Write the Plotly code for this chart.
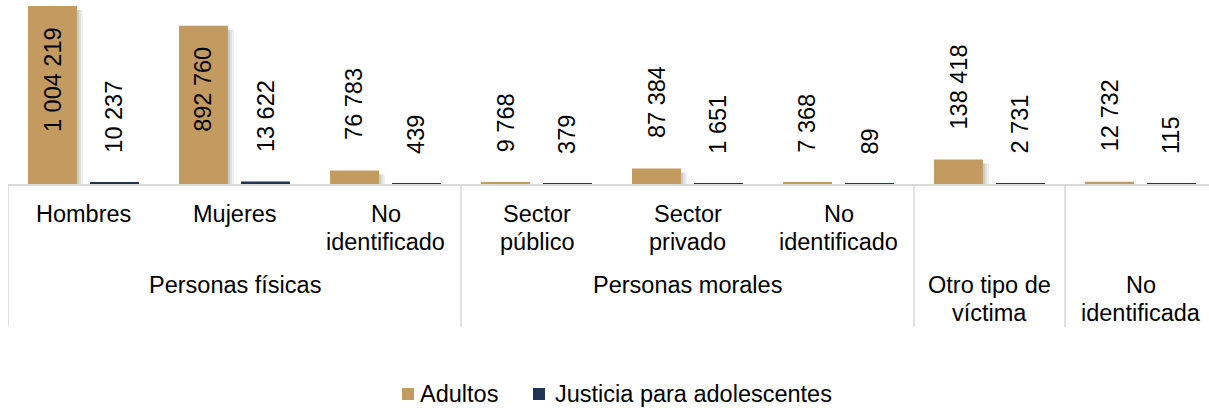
import plotly.graph_objects as go

# ---- data ----
subcats = ["Hombres", "Mujeres", "No\nidentificado", "Sector\npúblico",
           "Sector\nprivado", "No\nidentificado", "", ""]
groups = ["Personas físicas", "Personas morales", "Otro tipo de\nvíctima", "No\nidentificada"]
group_sizes = [3, 3, 1, 1]
adultos = [1004219, 892760, 76783, 9768, 87384, 7368, 138418, 12732]
adolescentes = [10237, 13622, 439, 379, 1651, 89, 2731, 115]
series_names = ["Adultos", "Justicia para adolescentes"]
colors = ["#C39B60", "#1F3556"]

# ---- layout geometry (pixels) ----
W, H = 1209, 408
L, T = 8, 0
PW = W - L
PH = 184
CW = 151.0                      # pixel width of one category
XMAX = -0.5 + PW / CW
YMAX = 1004219 * PH / 178.0
BARGAP, BARGROUPGAP = 0.179, 0.21
OFF = (1 - BARGAP) / 4          # centre offset of each bar within a group
FS = 23.5
FONT = "Arial, Liberation Sans, sans-serif"
GRID = "#D9D9D9"

def xp(px):
    return (px - L) / PW

def yp(py):
    return (T + PH - py) / PH

xs = list(range(len(adultos)))
fig = go.Figure()
for name, vals, col in zip(series_names, [adultos, adolescentes], colors):
    fig.add_trace(go.Bar(x=xs, y=vals, name=name, marker_color=col,
                         marker_line_width=0, showlegend=False,
                         hoverinfo="x+y+name"))

shapes = []
annotations = []

# soft shadow at right of the tan bars
bw = (1 - BARGAP) / 2 * (1 - BARGROUPGAP)
for i, v in enumerate(adultos):
    right = i - OFF + bw / 2
    top_px = PH - v / YMAX * PH
    for k, op in enumerate([0.45, 0.28, 0.14]):
        shapes.append(dict(type="rect", layer="below", xref="x", yref="paper",
                           x0=right + (k * 2) / CW, x1=right + (k * 2 + 2) / CW,
                           y0=yp(PH + 2), y1=yp(min(top_px + 4, PH)),
                           fillcolor="#8C8C8C", opacity=op, line_width=0))

# value labels
def fmt(v):
    return f"{v:,}".replace(",", " ")

for sign, vals in zip([-1, 1], [adultos, adolescentes]):
    for i, v in enumerate(vals):
        txt = fmt(v)
        txt_len = FS * (0.556 * sum(c.isdigit() for c in txt) + 0.278 * txt.count(" "))
        bar_px = v / YMAX * PH
        inside = bar_px > txt_len + 40
        annotations.append(dict(
            x=i + sign * OFF, y=v, xref="x", yref="y", text=txt, showarrow=False,
            textangle=-90, font=dict(family=FONT, size=FS, color="#000000"),
            xanchor="center", yanchor="top" if inside else "bottom",
            yshift=-19 if inside else 28))

# category labels (level 1)
for i, lab in enumerate(subcats):
    for j, line in enumerate(lab.split("\n")):
        if not line:
            continue
        annotations.append(dict(x=i, y=yp(214 + 28 * j), xref="x", yref="paper",
                                text=line, showarrow=False, xanchor="center",
                                yanchor="middle",
                                font=dict(family=FONT, size=FS, color="#000000")))

# group labels (level 2) and separators
start = 0
bounds = [-0.5]
for g, n in zip(groups, group_sizes):
    centre = start + (n - 1) / 2
    for j, line in enumerate(g.split("\n")):
        annotations.append(dict(x=centre, y=yp(285 + 28 * j), xref="x", yref="paper",
                                text=line, showarrow=False, xanchor="center",
                                yanchor="middle",
                                font=dict(family=FONT, size=FS, color="#000000")))
    start += n
    bounds.append(start - 0.5)
for b in bounds:
    shapes.append(dict(type="line", xref="x", yref="paper", x0=b, x1=b,
                       y0=yp(PH), y1=yp(327), line=dict(color=GRID, width=1.5)))

# legend (drawn manually)
leg = [(402, 12, 418), (533, 12, 553)]
for (sx, sz, tx), name, col in zip(leg, series_names, colors):
    shapes.append(dict(type="rect", xref="paper", yref="paper",
                       x0=xp(sx), x1=xp(sx + sz), y0=yp(388), y1=yp(388 + sz),
                       fillcolor=col, line_width=0))
    annotations.append(dict(x=xp(tx), y=yp(394), xref="paper", yref="paper",
                            text=name, showarrow=False, xanchor="left",
                            yanchor="middle",
                            font=dict(family=FONT, size=FS, color="#000000")))

fig.update_layout(
    width=W, height=H,
    margin=dict(l=L, r=W - L - PW, t=T, b=H - T - PH, pad=0),
    paper_bgcolor="white", plot_bgcolor="white",
    barmode="group", bargap=BARGAP, bargroupgap=BARGROUPGAP,
    font=dict(family=FONT, size=FS, color="#000000"),
    xaxis=dict(range=[-0.5, XMAX], showticklabels=False, ticks="",
               showgrid=False, zeroline=False, showline=True,
               linecolor=GRID, linewidth=2, fixedrange=True),
    yaxis=dict(range=[0, YMAX], visible=False, fixedrange=True),
    shapes=shapes, annotations=annotations, showlegend=False,
)
fig.write_html("out.html", config={"displayModeBar": False},
               post_script="document.body.style.margin='0';document.body.style.padding='0';")
